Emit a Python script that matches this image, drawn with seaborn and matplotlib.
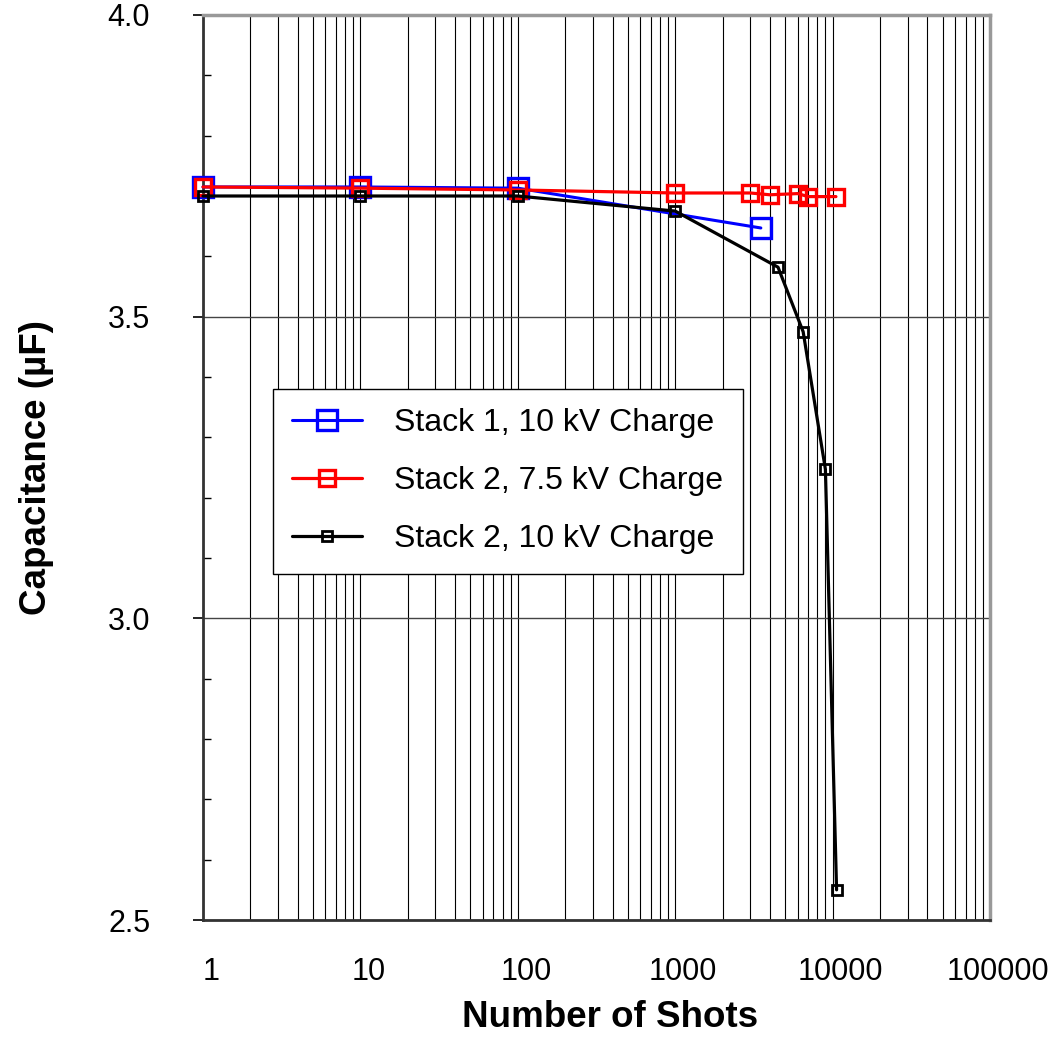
import numpy as np
import pandas as pd
import matplotlib
matplotlib.use("Agg")
import matplotlib.pyplot as plt
import matplotlib.ticker as mticker
from matplotlib.transforms import ScaledTranslation
import seaborn as sns

# ---- data ----
s1_x = [1, 10, 100, 3500]
s1_y = [3.715, 3.715, 3.713, 3.647]

s2a_x = [1, 10, 100, 1000, 3000, 4000, 6000, 7000, 10500]
s2a_y = [3.715, 3.713, 3.710, 3.705, 3.705, 3.702, 3.704, 3.699, 3.699]

s2b_x = [1, 10, 100, 1000, 4500, 6500, 9000, 10600]
s2b_y = [3.700, 3.700, 3.700, 3.675, 3.582, 3.475, 3.247, 2.550]

labels = ["Stack 1, 10 kV Charge", "Stack 2, 7.5 kV Charge", "Stack 2, 10 kV Charge"]
x_ticks = [1, 10, 100, 1000, 10000, 100000]
x_ticklabels = ["1", "10", "100", "1000", "10000", "100000"]
y_ticks = [2.5, 3.0, 3.5, 4.0]
y_ticklabels = ["2.5", "3.0", "3.5", "4.0"]

sns.set_style("white")
plt.rcParams['font.family'] = ['Liberation Sans', 'DejaVu Sans']
plt.rcParams['text.color'] = 'black'
plt.rcParams['axes.labelcolor'] = 'black'
plt.rcParams['xtick.color'] = 'black'
plt.rcParams['ytick.color'] = 'black'

fig = plt.figure(figsize=(10.59, 10.38), dpi=100)
ax = fig.add_axes([203/1059, 1 - 920/1038, (990-203)/1059, (920-15)/1038])

df1 = pd.DataFrame({"x": s1_x, "y": s1_y})
df2 = pd.DataFrame({"x": s2a_x, "y": s2a_y})
df3 = pd.DataFrame({"x": s2b_x, "y": s2b_y})

sns.lineplot(data=df1, x="x", y="y", ax=ax, color="#0000ff", lw=2.2,
             marker="s", markersize=15, markerfacecolor="none",
             markeredgecolor="#0000ff", markeredgewidth=2.4,
             sort=False, estimator=None, label=labels[0], zorder=3, clip_on=False)
sns.lineplot(data=df2, x="x", y="y", ax=ax, color="#ff0000", lw=2.3,
             marker="s", markersize=11.5, markerfacecolor="none",
             markeredgecolor="#ff0000", markeredgewidth=2.4,
             sort=False, estimator=None, label=labels[1], zorder=4, clip_on=False)
sns.lineplot(data=df3, x="x", y="y", ax=ax, color="black", lw=2.3,
             marker="s", markersize=7, markerfacecolor="none",
             markeredgecolor="black", markeredgewidth=2.0,
             sort=False, estimator=None, label=labels[2], zorder=5, clip_on=False)

ax.set_xscale("log")
ax.set_xlim(1, 100000)
ax.set_ylim(2.5, 4.0)

ax.xaxis.set_minor_locator(mticker.LogLocator(base=10, subs=np.arange(2, 10), numticks=20))
ax.xaxis.set_minor_formatter(mticker.NullFormatter())
ax.set_xticks(x_ticks)
ax.set_xticklabels(x_ticklabels)
ax.set_yticks(y_ticks)
ax.set_yticklabels(y_ticklabels)
ax.yaxis.set_minor_locator(mticker.MultipleLocator(0.1))

ax.tick_params(axis="x", which="both", length=0, pad=27, labelsize=22)
ax.tick_params(axis="y", which="major", direction="out", length=7, width=1.2,
               pad=31, labelsize=22, left=True)
ax.tick_params(axis="y", which="minor", direction="in", length=6, width=1.0, left=True)

# vertical grid (major+minor), horizontal major grid
ax.grid(True, axis="x", which="both", color="black", lw=0.8, zorder=0)
ax.grid(True, axis="y", which="major", color="#444444", lw=1.0, zorder=0)
ax.set_axisbelow(True)

for side in ["top", "right"]:
    ax.spines[side].set_color("#999999")
    ax.spines[side].set_linewidth(2.5)
for side in ["left", "bottom"]:
    ax.spines[side].set_color("#333333")
    ax.spines[side].set_linewidth(2.0)

# shift x tick labels slightly right as in reference
for lab in ax.get_xticklabels():
    lab.set_transform(lab.get_transform() + ScaledTranslation(8/100, 0, fig.dpi_scale_trans))

ax.set_xlabel("Number of Shots", fontsize=26.5, fontweight="bold")
ax.set_ylabel("Capacitance (µF)", fontsize=26.5, fontweight="bold")
ax.xaxis.set_label_coords((610-203)/787, (920-1000)/905)
ax.yaxis.set_label_coords((54-203)/787, 0.5)

leg = ax.legend(loc="upper left", bbox_to_anchor=((273-203)/787, (920-389)/905),
                borderaxespad=0, fontsize=23, frameon=True, fancybox=False,
                handlelength=2.2, handletextpad=1.0, labelspacing=0.88,
                borderpad=0.6)
leg.get_frame().set_edgecolor("black")
leg.get_frame().set_linewidth(1.0)
leg.get_frame().set_alpha(1.0)
leg.set_zorder(10)

fig.savefig("out.png", dpi=100)
